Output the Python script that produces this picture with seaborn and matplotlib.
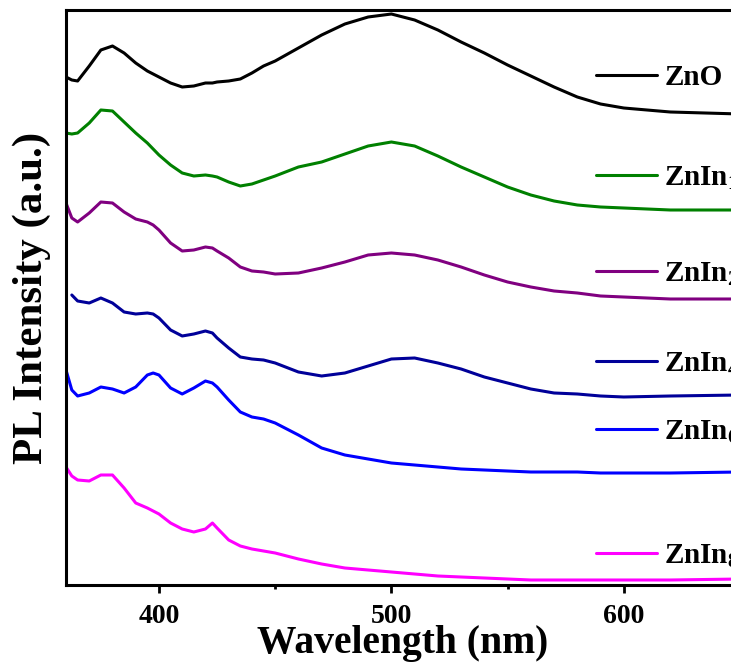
import numpy as np
import pandas as pd
import matplotlib
matplotlib.use('Agg')
import matplotlib.pyplot as plt
import seaborn as sns
from matplotlib.ticker import MultipleLocator

# --- Data (stacked PL spectra, arbitrary units) ---
wavelength = [360, 362.5, 365, 370, 375, 380, 385, 390, 395, 397.5, 400, 405, 410, 415, 420, 423, 425,
              430, 435, 440, 445, 450, 460, 470, 480, 490, 500, 510, 520, 530, 540, 550,
              560, 570, 580, 590, 600, 620, 650]

zno = [508, 505, 504, 519, 535, 539, 532, 522, 514, 511, 508, 502, 498, 499, 502, 502, 503,
       504, 506, 512, 519, 524, 537, 550, 561, 568, 571, 565, 555, 543, 532, 520,
       509, 498, 488, 481, 477, 473, 471]
znin1 = [452, 451, 452, 462, 475, 474, 463, 452, 442, 436, 430, 420, 412, 409, 410, 409, 408,
         403, 399, 401, 405, 409, 418, 423, 431, 439, 443, 439, 429, 418, 408, 398,
         390, 384, 380, 378, 377, 375, 375]
znin2 = [382, 367, 363, 372, 383, 382, 373, 366, 363, 360, 355, 342, 334, 335, 338, 337, 334,
         327, 318, 314, 313, 311, 312, 317, 323, 330, 332, 330, 325, 318, 310, 303,
         298, 294, 292, 289, 288, 286, 286]
znin4 = [np.nan, 290, 284, 282, 287, 282, 273, 271, 272, 271, 267, 255, 249, 251, 254, 252, 247,
         237, 228, 226, 225, 222, 213, 209, 212, 219, 226, 227, 222, 216, 208, 202,
         196, 192, 191, 189, 188, 189, 190]
znin6 = [215, 195, 189, 192, 198, 196, 192, 198, 210, 212, 210, 197, 191, 197, 204, 202, 198,
         185, 173, 168, 166, 162, 150, 137, 130, 126, 122, 120, 118, 116, 115, 114,
         113, 113, 113, 112, 112, 112, 113]
znin8 = [118, 109, 105, 104, 110, 110, 97, 82, 77, 74, 71, 62, 56, 53, 56, 62, 57,
         45, 39, 36, 34, 32, 26, 21, 17, 15, 13, 11, 9, 8, 7, 6,
         5, 5, 5, 5, 5, 5, 6]

samples = ['ZnO', 'ZnIn1', 'ZnIn2', 'ZnIn4', 'ZnIn6', 'ZnIn8']
labels = ['ZnO', r'ZnIn$_{1}$', r'ZnIn$_{2}$', r'ZnIn$_{4}$', r'ZnIn$_{6}$', r'ZnIn$_{8}$']
colors = ['#000000', '#008000', '#800080', '#000099', '#0000FF', '#FF00FF']

# label placement (layout only)
label_y = [510, 410, 314, 224, 156, 32]
key_x = (588, 614.5)
text_x = 617.5

# --- Styling ---
sns.set_theme(style="white")
plt.rcParams['font.family'] = ['Liberation Serif', 'DejaVu Serif']
plt.rcParams['font.weight'] = 'bold'
plt.rcParams['text.color'] = 'black'
plt.rcParams['axes.labelcolor'] = 'black'
plt.rcParams['xtick.color'] = 'black'
plt.rcParams['mathtext.fontset'] = 'custom'
plt.rcParams['mathtext.rm'] = 'Liberation Serif:bold'
plt.rcParams['mathtext.it'] = 'Liberation Serif:bold'
plt.rcParams['mathtext.bf'] = 'Liberation Serif:bold'
plt.rcParams['mathtext.default'] = 'rm'

series = [zno, znin1, znin2, znin4, znin6, znin8]
df = pd.concat([pd.DataFrame({'Wavelength': wavelength, 'Intensity': s, 'Sample': name})
                for name, s in zip(samples, series)], ignore_index=True)

fig = plt.figure(figsize=(7.31, 6.64), dpi=100)
ax = fig.add_axes([66 / 731, 79 / 664, 674 / 731, 575 / 664])

sns.lineplot(data=df, x='Wavelength', y='Intensity', hue='Sample', palette=colors,
             estimator=None, sort=False, lw=2.2, legend=False, ax=ax)
for line in ax.get_lines():
    line.set_solid_joinstyle('round')

for lab, col, yy in zip(labels, colors, label_y):
    ax.plot(key_x, [yy, yy], color=col, lw=2.2)
    ax.annotate(lab, xy=(text_x, yy), xytext=(0, -7.5), textcoords='offset points',
                fontsize=21, fontweight='bold', va='baseline', ha='left', color='black',
                annotation_clip=False)

ax.set_xlim(360, 650)
ax.set_ylim(0, 575)
ax.set_yticks([])
ax.xaxis.set_major_locator(MultipleLocator(100))
ax.xaxis.set_minor_locator(MultipleLocator(50))
ax.tick_params(axis='x', which='major', direction='out', length=6, width=2,
               labelsize=20, pad=8, bottom=True, colors='black')
ax.tick_params(axis='x', which='minor', direction='out', length=3, width=2, bottom=True)
for lbl in ax.get_xticklabels():
    lbl.set_fontweight('bold')

for side in ['left', 'bottom', 'top', 'right']:
    ax.spines[side].set_linewidth(2.2)
    ax.spines[side].set_color('black')

ax.set_xlabel('Wavelength (nm)', fontsize=28.5, fontweight='bold', labelpad=-3)
ax.set_ylabel('PL Intensity (a.u.)', fontsize=31, fontweight='bold', labelpad=11)

fig.savefig('out.png', dpi=100)
